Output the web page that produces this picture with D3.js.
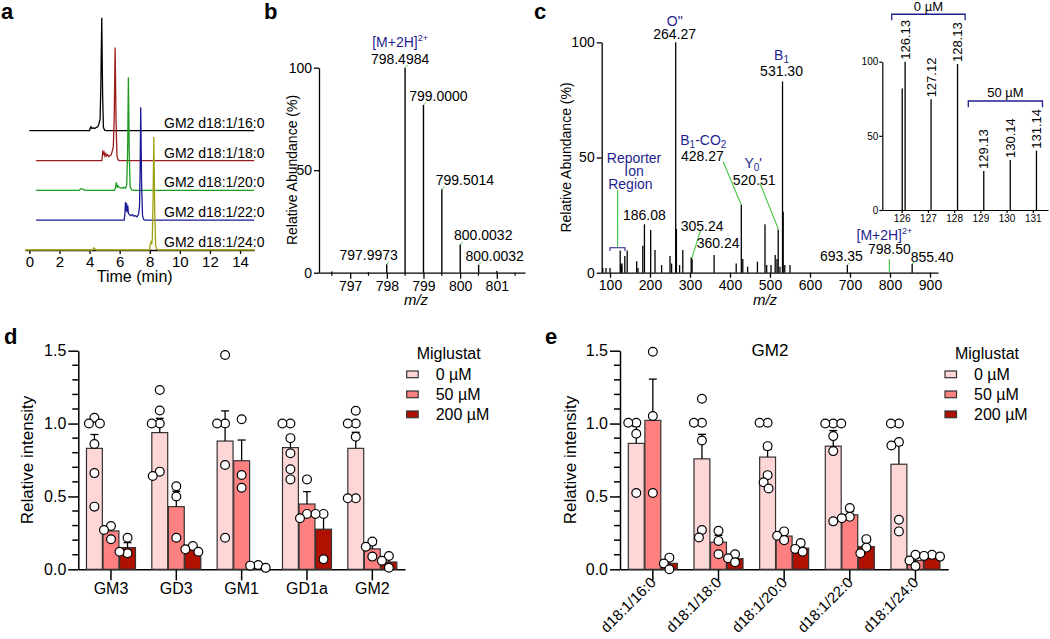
<!DOCTYPE html>
<html><head><meta charset="utf-8">
<script src="https://cdn.jsdelivr.net/npm/d3@7"></script>
<style>body{margin:0;background:#fff}</style>
</head><body><svg id="c" width="1050" height="639"></svg>
<script>
// ================= DATA =================
// Panel a: chromatograms (time min, relative intensity)
const traceNames = ["GM2 d18:1/16:0","GM2 d18:1/18:0","GM2 d18:1/20:0","GM2 d18:1/22:0","GM2 d18:1/24:0"];
const traceColors = ["#000000","#9b1c1c","#1f9a1f","#1a1a96","#a0a014"];
const trace16 = [[0,0],[4.0,0],[4.05,2.5],[4.1,3.5],[4.15,2],[4.25,2.5],[4.35,2],[4.45,3],[4.55,3.5],[4.62,6],[4.7,10],[4.75,40],[4.81,100],[4.87,30],[4.92,3],[5.0,0.5],[5.1,0],[14.94,0]];
const trace18 = [[0.45,0],[4.82,0],[4.85,4],[4.88,9],[4.92,5],[4.97,7],[5.02,4],[5.08,6],[5.13,4],[5.2,5],[5.28,3.5],[5.36,4.5],[5.44,5],[5.52,9],[5.58,12],[5.64,40],[5.7,100],[5.76,35],[5.82,4],[5.9,0.5],[6.0,0],[14.94,0]];
const trace20 = [[0.45,0],[3.3,0],[3.42,1.5],[3.55,1],[3.7,0],[5.65,0],[5.72,2],[5.78,7],[5.84,3],[5.9,4],[5.97,2.5],[6.1,2],[6.25,2.5],[6.4,2],[6.47,5],[6.53,35],[6.58,100],[6.64,30],[6.7,3],[6.8,0.5],[6.9,0],[14.94,0]];
const trace22 = [[0.45,0],[6.3,0],[6.35,6],[6.39,16],[6.42,8],[6.46,15],[6.5,7],[6.54,13],[6.58,6],[6.65,5],[6.75,4],[6.85,5],[6.95,3.5],[7.05,4],[7.15,3],[7.25,5],[7.32,12],[7.36,45],[7.4,100],[7.46,30],[7.52,4],[7.6,0.5],[7.7,0],[14.94,0]];
const trace24 = [[-0.29,0],[4.2,0],[4.28,2],[4.36,1],[4.45,0],[7.98,0],[8.03,5],[8.08,7],[8.13,5],[8.17,10],[8.22,45],[8.27,100],[8.33,35],[8.39,4],[8.48,0.5],[8.58,0],[14.94,0]];
const timeTicks = [0,2,4,6,8,10,12,14];

// Panel b: MS1 isotope cluster
const bMz  = [796.5, 797.5, 797.9973, 798.4984, 799.0000, 799.5014, 800.0032, 800.5050, 801.0];
const bRel = [0.6, 0.3, 4.1, 100, 81.8, 40.7, 13.8, 3.8, 0.8];
const bLabels = ["", "", "797.9973", "798.4984", "799.0000", "799.5014", "800.0032", "800.0032", ""];
const bTicks = [797, 798, 799, 800, 801];

// Panel c: MS2 spectrum
const cMz  = [82,90,100,125.5,127,128.5,130,137,143,166.7,170,182,186.08,201.7,212.5,229,250,254,264.27,266,274,282,303,305.24,360.24,415.5,428.27,432,444,468.6,487.5,491.7,502.5,513,517.5,520.51,525,531.30,533,537,550,693.35,855.40];
const cRel = [2,2,2,9.6,4,3,4,7.2,9.6,5,2,11.7,21,18.5,9.8,3.3,7.2,4,100,19,3.3,9.8,6.7,6,7.7,4,29.4,6,2.6,4.8,21,3.3,3.3,7.7,6,18.8,2.6,83,26.5,3.3,3.3,3.3,3.8];
const cLabelMz   = [264.27, 531.30, 428.27, 520.51, 186.08, 305.24, 360.24, 693.35, 855.40];
const cLabelText = ["264.27","531.30","428.27","520.51","186.08","305.24","360.24","693.35","855.40"];
const cTicks = [100,200,300,400,500,600,700,800,900];
const precursorMz = 798.50;

// Panel c inset: reporter ions
const insetMz  = [126.02, 126.13, 127.12, 128.13, 129.13, 130.14, 131.14];
const insetRel = [82, 100, 74.6, 98.4, 26.3, 33.7, 40];
const insetLabels = ["", "126.13", "127.12", "128.13", "129.13", "130.14", "131.14"];
const insetTicks = [126,127,128,129,130,131];

// Panel d
const doses = ["0 µM","50 µM","200 µM"];
const doseColors = ["#ffd6d6","#ff8080","#b01000"];
const gangliosides = ["GM3","GD3","GM1","GD1a","GM2"];
const dMean = [[0.83,0.263,0.149],[0.938,0.43,0.139],[0.88,0.745,0.016],[0.835,0.448,0.275],[0.83,0.14,0.05]];
const dSEM  = [[0.095,0.027,0.034],[0.098,0.105,0.012],[0.207,0.142,0.008],[0.066,0.085,0.105],[0.11,0.03,0.025]];
const dPts = [
  [[1.04,1.0,1.0,0.86,0.66,0.43],[0.297,0.27,0.206],[0.217,0.11,0.12]],
  [[1.23,1.09,1.0,1.0,0.67,0.64],[0.57,0.5,0.217],[0.16,0.137,0.12]],
  [[1.47,1.0,1.0,0.716,0.217],[1.03,0.647,0.56],[0.03,0.025,0.01]],
  [[1.0,1.0,0.9,0.796,0.686,0.617],[0.617,0.38,0.35],[0.38,0.38,0.069]],
  [[1.088,1.0,1.0,0.91,0.487,0.487],[0.19,0.155,0.087],[0.091,0.059,0.011]]
];
// Panel e
const gm2Species = ["d18:1/16:0","d18:1/18:0","d18:1/20:0","d18:1/22:0","d18:1/24:0"];
const eMean = [[0.864,1.022,0.041],[0.758,0.186,0.073],[0.77,0.228,0.145],[0.845,0.374,0.156],[0.721,0.06,0.094]];
const eSEM  = [[0.116,0.283,0.023],[0.168,0.047,0.016],[0.052,0.017,0.018],[0.107,0.022,0.028],[0.131,0.022,0.004]];
const ePts = [
  [[1.006,1.006,0.93,0.524],[1.493,1.052,0.524],[0.08,0.04,0.0]],
  [[1.17,1.006,1.006,0.884,0.27,0.218],[0.264,0.195,0.103],[0.103,0.076,0.048]],
  [[1.006,1.006,0.845,0.646,0.597,0.554],[0.26,0.23,0.2],[0.18,0.14,0.12]],
  [[1.0,1.0,1.0,0.914,0.811,0.329],[0.42,0.36,0.35],[0.207,0.149,0.11]],
  [[1.0,1.0,0.873,0.85,0.34,0.26],[0.099,0.06,0.023],[0.099,0.092,0.087]]
];
const yTicksDE = [0,0.5,1.0,1.5];

// ================= DRAWING =================
const FONT = "Liberation Sans, Arial, Helvetica, sans-serif";
const NAVY = "#1f1f8f", GREEN = "#4cc94c";
const svg = d3.select("#c").attr("font-family", FONT);
svg.append("rect").attr("width",1050).attr("height",639).attr("fill","#fff");

function styleAxis(g, fs, sw) {
  g.attr("font-size", fs).attr("font-family", FONT);
  g.selectAll("path,line").attr("stroke","#000").attr("stroke-width", sw);
  g.selectAll("text").attr("fill","#000");
}
function panelLabel(t, x, y) {
  svg.append("text").attr("x",x).attr("y",y).attr("font-size",22).attr("font-weight","bold").text(t);
}
panelLabel("a", 1, 19); panelLabel("b", 264, 19); panelLabel("c", 534, 19);
panelLabel("d", 4, 344); panelLabel("e", 545, 344);

// ---------- Panel a ----------
(function(){
  const g = svg.append("g");
  const xA = d3.scaleLinear().domain([-0.29, 14.94]).range([25, 254.2]);
  const baseA = d3.scalePoint().domain(traceNames).range([130.7, 250]);
  const hA = d3.scaleLinear().domain([0,100]).range([0,113]);
  const ax = g.append("g").attr("transform","translate(0,250)")
    .call(d3.axisBottom(xA).tickValues(timeTicks).tickFormat(d3.format("d")).tickSize(4).tickPadding(2).tickSizeOuter(0));
  styleAxis(ax, 15, 1.3);
  const traces = [trace16, trace18, trace20, trace22, trace24];
  traces.forEach((tr, i) => {
    const name = traceNames[i];
    const line = d3.line().x(d => xA(d[0])).y(d => baseA(name) - hA(d[1]));
    g.append("path").attr("d", line(tr)).attr("fill","none").attr("stroke", traceColors[i]).attr("stroke-width",1.3);
    g.append("text").attr("x", xA(8.95)).attr("y", baseA(name) - 3).attr("font-size",14).text(name);
  });
  g.append("text").attr("x", xA(7.0)).attr("y", 282).attr("text-anchor","middle").attr("font-size",16).text("Time (min)");
})();

// ---------- Panel b ----------
(function(){
  const g = svg.append("g");
  const xB = d3.scaleLinear().domain([796.15, 801.77]).range([319, 525]);
  const yB = d3.scaleLinear().domain([0,100]).range([272.7, 67.7]);
  const ax = g.append("g").attr("transform","translate(0,272.7)")
    .call(d3.axisBottom(xB).tickValues(bTicks).tickFormat(d3.format("d")).tickSize(6).tickPadding(2).tickSizeOuter(0));
  styleAxis(ax, 14, 1.3);
  const minor = d3.range(796.5, 801.6, 1);
  g.selectAll(".mnb").data(minor).join("line").attr("x1",d=>xB(d)).attr("x2",d=>xB(d)).attr("y1",272.7).attr("y2",275.7).attr("stroke","#000").attr("stroke-width",1.2);
  const ay = g.append("g").attr("transform","translate(319,0)")
    .call(d3.axisLeft(yB).tickValues([0,50,100]).tickSize(5).tickPadding(2).tickSizeOuter(0));
  styleAxis(ay, 14, 1.3);
  g.selectAll(".pk").data(bMz).join("line").attr("x1",d=>xB(d)).attr("x2",d=>xB(d))
    .attr("y1", yB(0)).attr("y2",(d,i)=>yB(bRel[i])).attr("stroke","#000").attr("stroke-width",1.4);
  const dx = [0,0,-18,-5,15,23,23,16,0];
  bMz.forEach((m,i) => {
    if (!bLabels[i]) return;
    const px = xB(m), py = yB(bRel[i]);
    g.append("line").attr("x1",px).attr("y1",py).attr("x2",px+2.5).attr("y2",py-2.5).attr("stroke",GREEN).attr("stroke-width",1);
    g.append("text").attr("x", px+dx[i]).attr("y", py-4).attr("text-anchor","middle").attr("font-size",14).text(bLabels[i]);
  });
  const t = g.append("text").attr("x", xB(798.4984)-5).attr("y", 47).attr("text-anchor","middle").attr("font-size",14).attr("fill",NAVY);
  t.append("tspan").text("[M+2H]");
  t.append("tspan").attr("dy",-6).attr("font-size",9).text("2+");
  g.append("text").attr("transform","translate(297,170) rotate(-90)").attr("text-anchor","middle").attr("font-size",14).text("Relative Abundance (%)");
  g.append("text").attr("x",416).attr("y",305).attr("text-anchor","middle").attr("font-size",15).attr("font-style","italic").text("m/z");
})();

// ---------- Panel c ----------
(function(){
  const g = svg.append("g");
  const xC = d3.scaleLinear().domain([79.25, 920]).range([601.7, 938]);
  const yC = d3.scaleLinear().domain([0,100]).range([272.7, 42.3]);
  const ax = g.append("g").attr("transform","translate(0,272.7)")
    .call(d3.axisBottom(xC).tickValues(cTicks).tickSize(5).tickPadding(2).tickSizeOuter(0));
  styleAxis(ax, 14, 1.3);
  const ay = g.append("g").attr("transform","translate(601.7,0)")
    .call(d3.axisLeft(yC).tickValues([0,50,100]).tickSize(5).tickPadding(2).tickSizeOuter(0));
  styleAxis(ay, 14, 1.3);
  g.selectAll(".pk").data(cMz).join("line").attr("x1",d=>xC(d)).attr("x2",d=>xC(d))
    .attr("y1", yC(0)).attr("y2",(d,i)=>yC(cRel[i])).attr("stroke","#000").attr("stroke-width",1.3);
  const leaders = [[[383,48.2],[428.27,29.4]],[[475,38.8],[521.2,18.8]],[[119,35.9],[119,11.3]],[[326.7,18.5],[304.5,6.3]],[[precursorMz,5.8],[precursorMz,0]]];
  leaders.forEach(l => g.append("line").attr("x1",xC(l[0][0])).attr("y1",yC(l[0][1])).attr("x2",xC(l[1][0])).attr("y2",yC(l[1][1])).attr("stroke",GREEN).attr("stroke-width",1.2));
  const off = [[-1,-3],[-1,-5.5],[-39,-43.5],[-24,-44.5],[0,-4],[10,-28],[4,-7],[-6,-4],[20,-2]];
  cLabelMz.forEach((m,i) => {
    const k = cMz.indexOf(m);
    const px = xC(m), py = yC(cRel[k]);
    g.append("text").attr("x", px+off[i][0]).attr("y", py+off[i][1]).attr("text-anchor","middle").attr("font-size",14).text(cLabelText[i]);
    if (i >= 7) g.append("line").attr("x1",px).attr("y1",py).attr("x2",px+2.5).attr("y2",py-2.5).attr("stroke",GREEN).attr("stroke-width",1);
  });
  g.append("text").attr("x", xC(precursorMz)).attr("y", yC(0)-19).attr("text-anchor","middle").attr("font-size",14).text("798.50");
  const navy = (x, y) => g.append("text").attr("x",x).attr("y",y).attr("text-anchor","middle").attr("font-size",14).attr("fill",NAVY);
  navy(xC(264.27)-1, 26).text("O\"");
  let t = navy(xC(531.30)-1, 60); t.append("tspan").text("B"); t.append("tspan").attr("dy",3).attr("font-size",10).text("1");
  t = navy(xC(428.27)-38, 145); t.append("tspan").text("B"); t.append("tspan").attr("dy",3).attr("font-size",10).text("1");
  t.append("tspan").attr("dy",-3).text("-CO"); t.append("tspan").attr("dy",3).attr("font-size",10).text("2");
  t = navy(xC(520.51)-25, 168); t.append("tspan").text("Y"); t.append("tspan").attr("dy",3).attr("font-size",10).text("0");
  t.append("tspan").attr("dy",-3).text("'");
  t = navy(xC(precursorMz)-5, 240); t.append("tspan").text("[M+2H]"); t.append("tspan").attr("dy",-6).attr("font-size",9).text("2+");
  navy(xC(160), 163).text("Reporter");
  navy(xC(160), 176).text("Ion");
  navy(xC(151), 189).text("Region");
  const br = d3.path(); br.moveTo(xC(100), yC(9.4)); br.lineTo(xC(100), yC(10.8)); br.lineTo(xC(137.5), yC(10.8)); br.lineTo(xC(137.5), yC(9.4));
  g.append("path").attr("d", br.toString()).attr("fill","none").attr("stroke",NAVY).attr("stroke-width",1.1);
  g.append("text").attr("transform","translate(571,157.5) rotate(-90)").attr("text-anchor","middle").attr("font-size",14).text("Relative Abundance (%)");
  g.append("text").attr("x",765).attr("y",305).attr("text-anchor","middle").attr("font-size",15).attr("font-style","italic").text("m/z");
})();

// ---------- Panel c inset ----------
(function(){
  const g = svg.append("g");
  const xI = d3.scaleLinear().domain([125.26, 131.58]).range([882.3, 1048]);
  const yI = d3.scaleLinear().domain([0,100]).range([210, 61.7]);
  const ax = g.append("g").attr("transform","translate(0,210)")
    .call(d3.axisBottom(xI).tickValues(insetTicks).tickFormat(d3.format("d")).tickSize(3).tickPadding(2).tickSizeOuter(0));
  styleAxis(ax, 10, 1.2);
  const ay = g.append("g").attr("transform","translate(882.3,0)")
    .call(d3.axisLeft(yI).tickValues([0,50,100]).tickSize(3).tickPadding(1).tickSizeOuter(0));
  styleAxis(ay, 10, 1.2);
  g.selectAll(".pk").data(insetMz).join("line").attr("x1",d=>xI(d)).attr("x2",d=>xI(d))
    .attr("y1", yI(0)).attr("y2",(d,i)=>yI(insetRel[i])).attr("stroke","#000").attr("stroke-width",1.3);
  insetMz.forEach((m,i) => {
    if (!insetLabels[i]) return;
    g.append("text").attr("transform",`translate(${xI(m)+4.5},${yI(insetRel[i])-2}) rotate(-90)`).attr("font-size",13).text(insetLabels[i]);
  });
  const bracket = (a, b, top, bottom, label) => {
    const p = d3.path(); p.moveTo(xI(a), yI(bottom)); p.lineTo(xI(a), yI(top)); p.lineTo(xI(b), yI(top)); p.lineTo(xI(b), yI(bottom));
    g.append("path").attr("d", p.toString()).attr("fill","none").attr("stroke",NAVY).attr("stroke-width",1.3);
    g.append("text").attr("x",(xI(a)+xI(b))/2).attr("y", yI(top)-3.5).attr("text-anchor","middle").attr("font-size",13).text(label);
  };
  bracket(125.62, 128.42, 132, 128, doses[0]);
  bracket(128.54, 131.37, 73.5, 69.3, doses[1]);
})();

// ---------- Panels d & e ----------
function barPanel(o) {
  const g = svg.append("g");
  const x = d3.scaleBand().domain(o.cats).range([o.x0, o.x1]);
  const xd = d3.scaleBand().domain(doses).range([-24.5, 24.5]).paddingInner(0.04);
  const y = d3.scaleLinear().domain([0,1.5]).range([569.3, 350.7]);
  const ay = g.append("g").attr("transform",`translate(${o.x0},0)`)
    .call(d3.axisLeft(y).tickValues(yTicksDE).tickFormat(d3.format(".1f")).tickSize(10).tickPadding(2).tickSizeOuter(0));
  styleAxis(ay, 16, 1.5);
  const minor = d3.range(0, 1.51, 0.1).filter(v => Math.abs(v*2 - Math.round(v*2)) > 1e-6);
  g.selectAll(".mn").data(minor).join("line").attr("x1",o.x0-6).attr("x2",o.x0).attr("y1",d=>y(d)).attr("y2",d=>y(d)).attr("stroke","#000").attr("stroke-width",1.5);
  const ax = g.append("g").attr("transform","translate(0,569.3)")
    .call(d3.axisBottom(x).tickSize(11).tickPadding(2).tickSizeOuter(0));
  styleAxis(ax, 16, 1.5);
  if (o.rotate) {
    ax.selectAll(".tick text").attr("text-anchor","end").attr("x",0).attr("y",0).attr("dy",0)
      .attr("font-size",15).attr("transform","translate(4,14) rotate(-45)");
  }
  o.cats.forEach((c, ci) => {
    doses.forEach((d, di) => {
      const bx = x(c) + x.bandwidth()/2 + xd(d);
      const bw = xd.bandwidth();
      const m = o.means[ci][di], s = o.sems[ci][di];
      g.append("rect").attr("x", bx).attr("y", y(m)).attr("width", bw).attr("height", y(0)-y(m))
        .attr("fill", doseColors[di]).attr("stroke","#333").attr("stroke-width",1.2);
      const cx = bx + bw/2;
      g.append("line").attr("x1",cx).attr("x2",cx).attr("y1",y(m)).attr("y2",y(m+s)).attr("stroke","#000").attr("stroke-width",1.3);
      g.append("line").attr("x1",cx-4).attr("x2",cx+4).attr("y1",y(m+s)).attr("y2",y(m+s)).attr("stroke","#000").attr("stroke-width",1.3);
    });
  });
  const R = 4.4, MIND = 8;
  o.cats.forEach((c, ci) => {
    doses.forEach((d, di) => {
      const cx = x(c) + x.bandwidth()/2 + xd(d) + xd.bandwidth()/2;
      const placed = [];
      o.pts[ci][di].forEach(v => {
        const py = y(v);
        let off = 0;
        for (let k = 0; k < 200; k++) {
          const cand = (k % 2 ? -1 : 1) * Math.ceil(k/2) * 0.5;
          if (placed.every(p => Math.hypot(p[0]-(cx+cand), p[1]-py) >= MIND)) { off = cand; break; }
        }
        placed.push([cx+off, py]);
      });
      g.selectAll(null).data(placed).join("circle").attr("cx",p=>p[0]).attr("cy",p=>p[1]).attr("r",R)
        .attr("fill","#fff").attr("stroke","#000").attr("stroke-width",1.2);
    });
  });
  g.append("text").attr("transform",`translate(${o.x0-o.yl},460) rotate(-90)`).attr("text-anchor","middle").attr("font-size",17).text("Relative intensity");
  g.append("text").attr("x", o.lx + 42).attr("y", 359).attr("text-anchor","middle").attr("font-size",16).text("Miglustat");
  doses.forEach((d, di) => {
    g.append("rect").attr("x", o.lx).attr("y", 371 + di*20).attr("width",11.5).attr("height",6.7)
      .attr("fill", doseColors[di]).attr("stroke","#333").attr("stroke-width",1.2);
    g.append("text").attr("x", o.lx + 29).attr("y", 379.5 + di*20).attr("font-size",16).text(d);
  });
  return g;
}
barPanel({cats: gangliosides, means: dMean, sems: dSEM, pts: dPts, x0: 78.3, x1: 405, lx: 406.7, rotate: false, yl: 45});
const ge = barPanel({cats: gm2Species, means: eMean, sems: eSEM, pts: ePts, x0: 620, x1: 948.3, lx: 945, rotate: true, yl: 44});
ge.append("text").attr("x",770).attr("y",356).attr("text-anchor","middle").attr("font-size",17).text("GM2");
</script></body></html>
